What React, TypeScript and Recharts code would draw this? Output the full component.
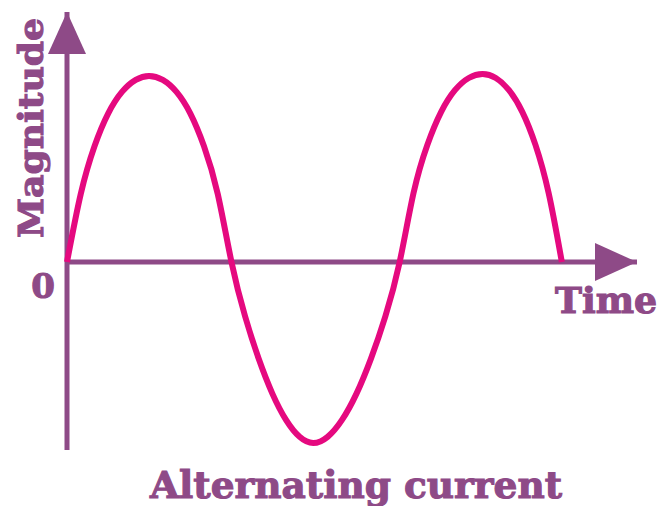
import React from "react";
import { ComposedChart, Line, XAxis, YAxis, ReferenceLine, ReferenceDot, Customized } from "recharts";

// Time (phase in degrees) and magnitude (units of peak)
const times = [
  0, 15, 30, 45, 60, 75, 89.5, 104.5, 119.5, 134.5, 149.5, 164.5, 179.5,
  194.4, 209.2, 224.1, 239.0, 253.8, 268.7, 284.4, 300.1, 315.9, 331.6, 347.3, 363,
  378.1, 393.2, 408.3, 423.3, 438.4, 453.5, 467.9, 482.3, 496.8, 511.2, 525.6, 540,
];
const magnitudes = [
  0, 0.362, 0.616, 0.791, 0.905, 0.969, 0.99, 0.969, 0.905, 0.791, 0.616, 0.362, 0,
  -0.29, -0.515, -0.7, -0.84, -0.93, -0.963, -0.93, -0.84, -0.7, -0.515, -0.29, 0,
  0.366, 0.623, 0.799, 0.914, 0.979, 1.0, 0.979, 0.914, 0.799, 0.623, 0.366, 0,
];
const X_MAX = 622;
const Y_MAX = 1.33;
const Y_MIN = -1.0;
const xLabel = "Time";
const yLabel = "Magnitude";
const originLabel = "0";
const title = "Alternating current";

const data = times.map((t, i) => ({ t, v: magnitudes[i] }));

const AXIS = "#8E4A87";
const WAVE = "#E5097F";
const FONT = "'DejaVu Serif', serif";

const UpArrow = (props: any) => {
  const { cx, cy } = props;
  return <polygon points={`${cx},${cy} ${cx - 19},${cy + 42} ${cx + 19},${cy + 42}`} fill={AXIS} />;
};
const RightArrow = (props: any) => {
  const { cx, cy } = props;
  return <polygon points={`${cx},${cy} ${cx - 42},${cy - 19} ${cx - 42},${cy + 19}`} fill={AXIS} />;
};

const Texts = () => (
  <g fontFamily={FONT} fontWeight="bold" fill={AXIS} stroke={AXIS} strokeWidth={1.1}>
    <text x={43} y={128} transform="rotate(-90 43 128)" textAnchor="middle" fontSize={34} textLength={220} lengthAdjust="spacingAndGlyphs">{yLabel}</text>
    <text x={43} y={298} textAnchor="middle" fontSize={34}>{originLabel}</text>
    <text x={555} y={313} fontSize={35} textLength={102} lengthAdjust="spacingAndGlyphs">{xLabel}</text>
    <text x={150} y={498} fontSize={38} textLength={412} lengthAdjust="spacingAndGlyphs">{title}</text>
  </g>
);

export default function App() {
  return (
    <div style={{ position: "absolute", left: 0, top: 0, width: 663, height: 506, background: "#fff" }}>
      <ComposedChart width={663} height={506} data={data} margin={{ top: 12, right: 26, bottom: 56, left: 67 }}>
        <XAxis dataKey="t" type="number" domain={[0, X_MAX]} hide />
        <YAxis type="number" domain={[Y_MIN, Y_MAX]} hide />
        <ReferenceLine x={0} stroke={AXIS} strokeWidth={5} />
        <ReferenceLine y={0} stroke={AXIS} strokeWidth={5} />
        <ReferenceDot x={0} y={Y_MAX} shape={UpArrow} />
        <ReferenceDot x={X_MAX} y={0} shape={RightArrow} />
        <Line type="natural" dataKey="v" stroke={WAVE} strokeWidth={6} dot={false} isAnimationActive={false} />
        <Customized component={Texts} />
      </ComposedChart>
    </div>
  );
}
